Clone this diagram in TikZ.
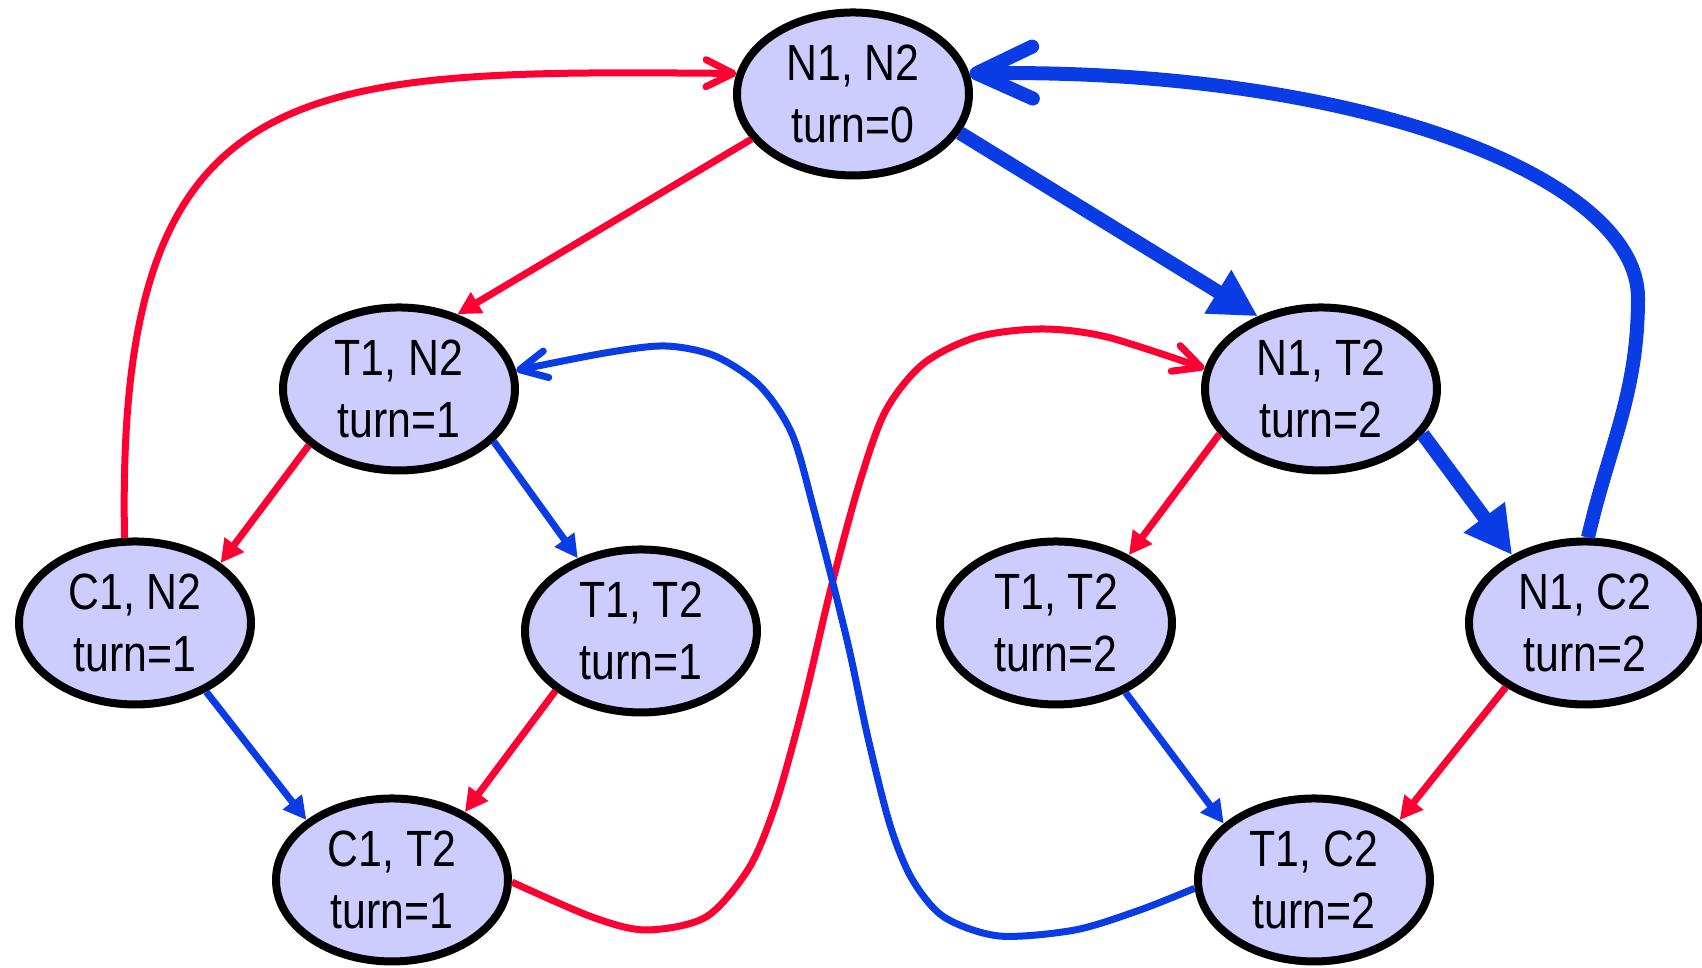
\documentclass[tikz,border=0pt]{standalone}
\usepackage{fontspec}
\setmainfont[FakeStretch=0.84]{Liberation Sans}
\usepackage{tikz}
\usetikzlibrary{arrows.meta,shapes.geometric}
\definecolor{statefill}{HTML}{CCCCFF}
\definecolor{proca}{HTML}{FF0033}
\definecolor{procb}{HTML}{0A3CE6}
\tikzset{
  state/.style={ellipse,draw,line width=0.08cm,fill=statefill,minimum width=2.32cm,minimum height=1.63cm,inner sep=0pt,align=center,font=\fontsize{14.5}{17.9}\selectfont},
  movea/.style={draw=proca,line width=0.07cm,-{Triangle[length=0.23cm,width=0.23cm]}},
  moveb/.style={draw=procb,line width=0.07cm,-{Triangle[length=0.23cm,width=0.23cm]}},
  fairb/.style={draw=procb,line width=0.14cm,-{Triangle[length=0.47cm,width=0.48cm]}},
  barba/.style={draw=proca,line width=0.07cm,-{Straight Barb[length=0.27cm,width=0.27cm,round]}},
  barbb/.style={draw=procb,line width=0.07cm,-{Straight Barb[length=0.27cm,width=0.27cm,round]}},
  barbfair/.style={draw=procb,line width=0.14cm,-{Straight Barb[length=0.56cm,width=0.52cm,round]}},
}
\begin{document}
\begin{tikzpicture}
  \useasboundingbox (0,0) rectangle (17.02,9.68);
  \node[state] (n1n2) at (8.53,8.74) {N1, N2\\turn=0};
  \node[state] (t1n2) at (3.99,5.79) {T1, N2\\turn=1};
  \node[state] (n1t2) at (13.21,5.79) {N1, T2\\turn=2};
  \node[state] (c1n2) at (1.35,3.45) {C1, N2\\turn=1};
  \node[state] (t1t2a) at (6.41,3.37) {T1, T2\\turn=1};
  \node[state] (c1t2) at (3.92,0.88) {C1, T2\\turn=1};
  \node[state] (t1t2b) at (10.56,3.45) {T1, T2\\turn=2};
  \node[state] (n1c2) at (15.85,3.45) {N1, C2\\turn=2};
  \node[state] (t1c2) at (13.14,0.88) {T1, C2\\turn=2};
  \foreach \a/\b/\s in {n1n2.204/t1n2.52/movea, n1n2.-20/n1t2.131/fairb, n1t2.-24/n1c2.137/fairb,
      t1n2.212/c1n2.35/movea, t1n2.-29/t1t2a.131/moveb, c1n2.-44/c1t2.145/moveb,
      t1t2a.215/c1t2.43/movea, n1t2.204/t1t2b.43/movea, t1t2b.-45/t1c2.148/moveb,
      n1c2.219/t1c2.35/movea} {
    \draw[\s] (\a) -- (\b);
  }
  \draw[barba] (c1n2.97) .. controls (1.15,9.0) and (3.0,8.98) .. (n1n2.170);
  \coordinate (bend) at (16.38,6.70);
  \draw[barbfair] (n1c2.88) to[out=77,in=-90] (bend) .. controls (16.38,7.9) and (13.6,9.0) .. (n1n2.10);
  \draw[barba] plot[smooth] coordinates {(c1t2.-1) (5.92,0.51) (6.46,0.38) (7.06,0.51) (7.49,1.00) (7.76,1.65) (8.03,2.62) (8.30,3.76) (8.58,4.80) (8.85,5.56) (9.23,6.04) (9.77,6.31) (10.42,6.39) (11.07,6.31) (n1t2.170)};
  \draw[barbb] plot[smooth] coordinates {(t1c2.184) (11.40,0.58) (10.75,0.38) (9.99,0.32) (9.44,0.51) (9.12,0.89) (8.90,1.43) (8.68,2.30) (8.47,3.28) (8.14,4.58) (7.92,5.34) (7.60,5.82) (7.15,6.12) (6.65,6.22) (6.05,6.15) (t1n2.9)};
\end{tikzpicture}
\end{document}
